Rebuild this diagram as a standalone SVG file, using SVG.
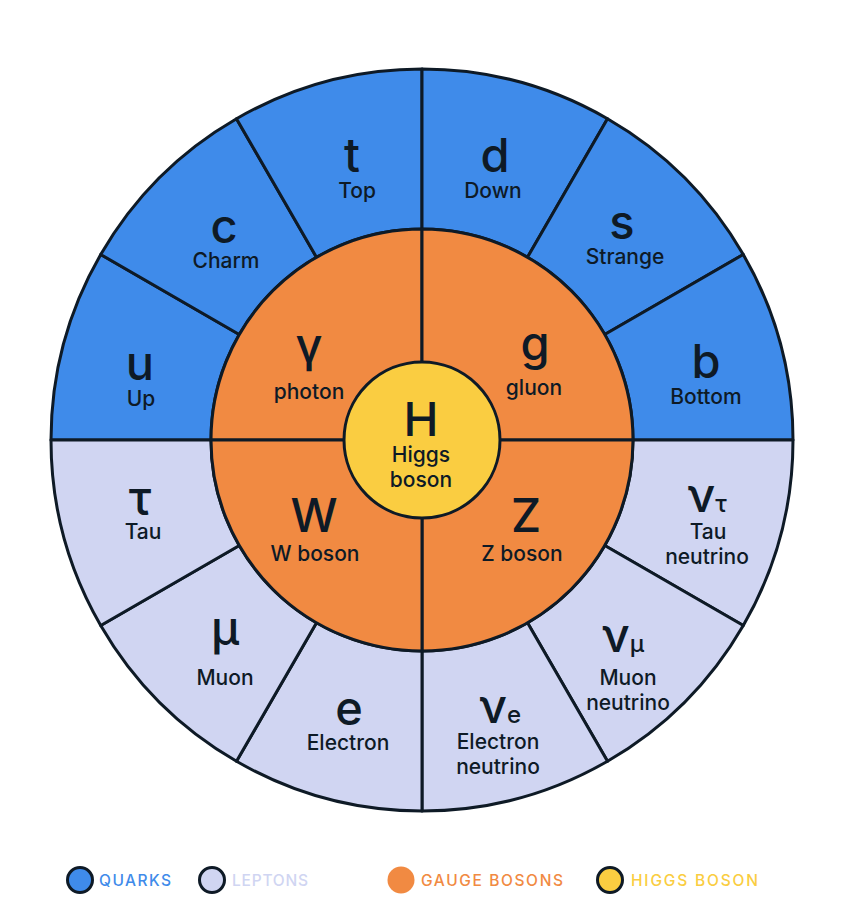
<svg xmlns="http://www.w3.org/2000/svg" width="850" height="912" viewBox="0 0 850 912">
<style>
  .seg{stroke:#0E1A26;stroke-width:3;stroke-linejoin:round}
  .q{fill:#3F8BEA}
  .l{fill:#D0D5F2}
  .g{fill:#F18A42}
  .h{fill:#FACD41}
  .sym{font-family:Inter,"Noto Sans","DejaVu Sans",sans-serif;font-size:47px;font-weight:500;fill:#0E1A26;text-anchor:middle}
  .sub{font-size:24px}
  .lab{font-family:Inter,"Noto Sans","DejaVu Sans",sans-serif;font-size:21px;font-weight:500;fill:#0E1A26;text-anchor:middle}
  .leg{font-family:Inter,"Noto Sans","DejaVu Sans",sans-serif;font-size:15.5px;font-weight:500}
</style>
<rect width="850" height="912" fill="#ffffff"/>

<!-- Quarks -->
<g id="up"><path class="seg q" d="M51,440 A371,371 0 0 1 100.71,254.5 L239.27,334.5 A211,211 0 0 0 211,440 Z"/>
<text class="sym" x="140" y="380">u</text><text class="lab" x="141" y="406">Up</text></g>
<g id="charm"><path class="seg q" d="M100.71,254.5 A371,371 0 0 1 236.5,118.71 L316.5,257.27 A211,211 0 0 0 239.27,334.5 Z"/>
<text class="sym" x="224" y="243">c</text><text class="lab" x="226" y="268">Charm</text></g>
<g id="top"><path class="seg q" d="M236.5,118.71 A371,371 0 0 1 422,69 L422,229 A211,211 0 0 0 316.5,257.27 Z"/>
<text class="sym" x="352" y="172">t</text><text class="lab" x="357" y="198">Top</text></g>
<g id="down"><path class="seg q" d="M422,69 A371,371 0 0 1 607.5,118.71 L527.5,257.27 A211,211 0 0 0 422,229 Z"/>
<text class="sym" x="495" y="172">d</text><text class="lab" x="493" y="198">Down</text></g>
<g id="strange"><path class="seg q" d="M607.5,118.71 A371,371 0 0 1 743.29,254.5 L604.73,334.5 A211,211 0 0 0 527.5,257.27 Z"/>
<text class="sym" x="622" y="239">s</text><text class="lab" x="625" y="264">Strange</text></g>
<g id="bottom"><path class="seg q" d="M743.29,254.5 A371,371 0 0 1 793,440 L633,440 A211,211 0 0 0 604.73,334.5 Z"/>
<text class="sym" x="706" y="378">b</text><text class="lab" x="706" y="404">Bottom</text></g>

<!-- Leptons -->
<g id="tau-neutrino"><path class="seg l" d="M793,440 A371,371 0 0 1 743.29,625.5 L604.73,545.5 A211,211 0 0 0 633,440 Z"/>
<text class="sym" x="707" y="512">ν<tspan class="sub">τ</tspan></text><text class="lab" x="708" y="539">Tau</text><text class="lab" x="707" y="564">neutrino</text></g>
<g id="muon-neutrino"><path class="seg l" d="M743.29,625.5 A371,371 0 0 1 607.5,761.29 L527.5,622.73 A211,211 0 0 0 604.73,545.5 Z"/>
<text class="sym" x="623" y="652">ν<tspan class="sub">μ</tspan></text><text class="lab" x="628" y="685">Muon</text><text class="lab" x="628" y="710">neutrino</text></g>
<g id="electron-neutrino"><path class="seg l" d="M607.5,761.29 A371,371 0 0 1 422,811 L422,651 A211,211 0 0 0 527.5,622.73 Z"/>
<text class="sym" x="500" y="723">ν<tspan class="sub">e</tspan></text><text class="lab" x="498" y="749">Electron</text><text class="lab" x="498" y="774">neutrino</text></g>
<g id="electron"><path class="seg l" d="M422,811 A371,371 0 0 1 236.5,761.29 L316.5,622.73 A211,211 0 0 0 422,651 Z"/>
<text class="sym" x="349" y="725">e</text><text class="lab" x="348" y="750">Electron</text></g>
<g id="muon"><path class="seg l" d="M236.5,761.29 A371,371 0 0 1 100.71,625.5 L239.27,545.5 A211,211 0 0 0 316.5,622.73 Z"/>
<text class="sym" x="225" y="645">μ</text><text class="lab" x="225" y="685">Muon</text></g>
<g id="tau"><path class="seg l" d="M100.71,625.5 A371,371 0 0 1 51,440 L211,440 A211,211 0 0 0 239.27,545.5 Z"/>
<text class="sym" x="140" y="515">τ</text><text class="lab" x="143" y="539">Tau</text></g>

<!-- Gauge bosons -->
<g id="photon"><path class="seg g" d="M211,440 A211,211 0 0 1 422,229 L422,440 Z"/>
<text class="sym" x="309" y="362">γ</text><text class="lab" x="309" y="399">photon</text></g>
<g id="gluon"><path class="seg g" d="M422,229 A211,211 0 0 1 633,440 L422,440 Z"/>
<text class="sym" x="535" y="360">g</text><text class="lab" x="534" y="395">gluon</text></g>
<g id="z-boson"><path class="seg g" d="M633,440 A211,211 0 0 1 422,651 L422,440 Z"/>
<text class="sym" x="526" y="532">Z</text><text class="lab" x="522" y="561">Z boson</text></g>
<g id="w-boson"><path class="seg g" d="M422,651 A211,211 0 0 1 211,440 L422,440 Z"/>
<text class="sym" x="314" y="532">W</text><text class="lab" x="315" y="561">W boson</text></g>

<!-- Higgs -->
<g id="higgs"><circle class="seg h" cx="422" cy="440" r="78"/>
<text class="sym" x="421" y="436">H</text><text class="lab" x="421" y="462">Higgs</text><text class="lab" x="421" y="487">boson</text></g>

<!-- Legend -->
<g id="legend">
  <circle cx="80" cy="880" r="12.5" fill="#3F8BEA" stroke="#0E1A26" stroke-width="3"/>
  <text class="leg" x="99" y="885.5" fill="#3F8BEA" textLength="72" lengthAdjust="spacing">QUARKS</text>
  <circle cx="212" cy="880" r="12.5" fill="#D0D5F2" stroke="#0E1A26" stroke-width="3"/>
  <text class="leg" x="232" y="885.5" fill="#D0D5F2" textLength="76" lengthAdjust="spacing">LEPTONS</text>
  <circle cx="401" cy="880" r="13.5" fill="#F18A42"/>
  <text class="leg" x="421" y="885.5" fill="#F18A42" textLength="142" lengthAdjust="spacing">GAUGE BOSONS</text>
  <circle cx="610" cy="880" r="12.5" fill="#FACD41" stroke="#0E1A26" stroke-width="3"/>
  <text class="leg" x="631" y="885.5" fill="#FACD41" textLength="127" lengthAdjust="spacing">HIGGS BOSON</text>
</g>
</svg>
